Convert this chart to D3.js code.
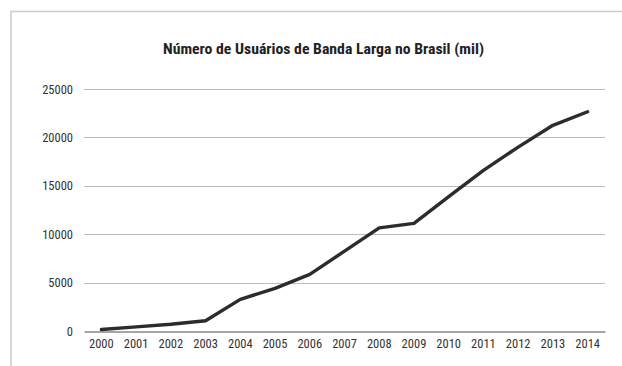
<!DOCTYPE html>
<html>
<head>
<meta charset="utf-8">
<script src="https://cdn.jsdelivr.net/npm/d3@7"></script>
<style>
  body { margin: 0; background: #fff; }
  text { font-family: "Liberation Sans Narrow", "Roboto Condensed", "DejaVu Sans Condensed", sans-serif; fill: #333; }
</style>
</head>
<body>
<div id="chart"></div>
<script>
var years = ["2000","2001","2002","2003","2004","2005","2006","2007","2008","2009","2010","2011","2012","2013","2014"];
var usuarios = [150, 430, 700, 1060, 3270, 4410, 5850, 8250, 10650, 11120, 13880, 16600, 19000, 21250, 22650];
var yTicks = [0, 5000, 10000, 15000, 20000, 25000];
var title = "Número de Usuários de Banda Larga no Brasil (mil)";

var width = 622, height = 366;
var margin = { left: 84, right: 17, top: 89, bottom: 35 };

var svg = d3.select("#chart").append("svg")
    .attr("width", width)
    .attr("height", height);

// frame (cropped on right/bottom)
svg.append("path")
    .attr("d", "M11," + height + "V11.5H" + width)
    .attr("fill", "none")
    .attr("stroke", "#ccc")
    .attr("stroke-width", 1.6);

var x = d3.scaleBand()
    .domain(years)
    .range([margin.left, width - margin.right]);

var y = d3.scaleLinear()
    .domain([0, 25000])
    .range([height - margin.bottom, margin.top]);

// gridlines
svg.append("g")
    .selectAll("line")
    .data(yTicks.filter(function(d){ return d > 0; }))
    .enter().append("line")
    .attr("x1", margin.left)
    .attr("x2", width - margin.right)
    .attr("y1", function(d){ return Math.round(y(d)) + 0.5; })
    .attr("y2", function(d){ return Math.round(y(d)) + 0.5; })
    .attr("stroke", "#bdbdbd")
    .attr("stroke-width", 1);

// y labels
var yAxis = d3.axisLeft(y).tickValues(yTicks).tickFormat(d3.format("d")).tickSize(0).tickPadding(11);
var gy = svg.append("g")
    .attr("transform", "translate(" + margin.left + ",0)")
    .call(yAxis);
gy.select(".domain").remove();
gy.selectAll("text").attr("font-size", 12.5).attr("font-family", null);

// x axis
var xAxis = d3.axisBottom(x).tickSize(0).tickPadding(8);
var gx = svg.append("g")
    .attr("transform", "translate(0," + (Math.round(y(0)) + 0.5) + ")")
    .call(xAxis);
gx.select(".domain").attr("stroke", "#888").attr("stroke-width", 1.5);
gx.selectAll("text").attr("font-size", 12.5).attr("font-family", null);

// line
var line = d3.line()
    .x(function(d, i){ return x(years[i]) + x.bandwidth() / 2; })
    .y(function(d){ return y(d); });

svg.append("path")
    .datum(usuarios)
    .attr("d", line)
    .attr("fill", "none")
    .attr("stroke", "#2e2b29")
    .attr("stroke-width", 3.4)
    .attr("stroke-linejoin", "round")
    .attr("stroke-linecap", "round");

// title
svg.append("text")
    .attr("x", 163)
    .attr("y", 54)
    .attr("font-size", 14)
    .attr("font-weight", "bold")
    .attr("textLength", 321)
    .attr("lengthAdjust", "spacingAndGlyphs")
    .style("fill", "#222")
    .text(title);
</script>
</body>
</html>
